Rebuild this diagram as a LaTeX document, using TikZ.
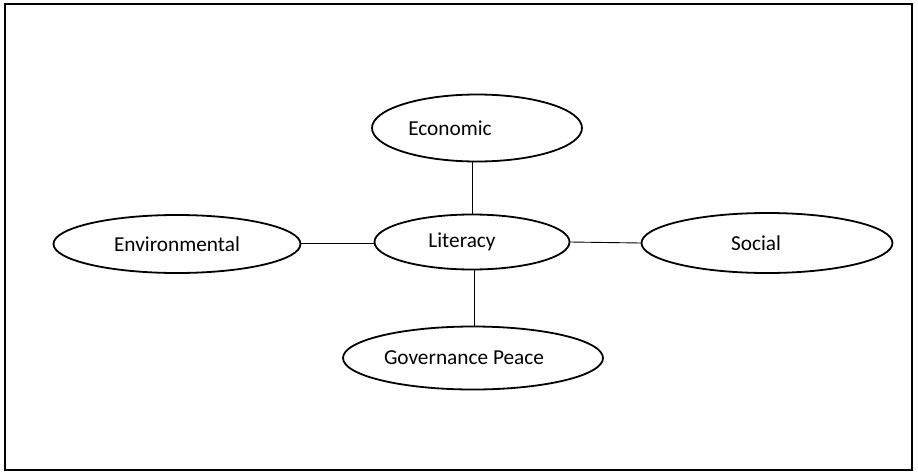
\documentclass[tikz,border=0pt]{standalone}
\usepackage{fontspec}
\setmainfont{Carlito}
\usetikzlibrary{shapes.geometric}
\begin{document}
\begin{tikzpicture}[x=1pt,y=-1pt,
  elipse/.style={draw,ellipse,line width=1.8pt,inner sep=0pt,font=\fontsize{21.3}{25}\selectfont},
  enlace/.style={line width=0.9pt}]
        \useasboundingbox (0,0) rectangle (918,474);
        \draw[line width=2pt] (5,4) rectangle (912,470); % marco
        \node[elipse,minimum width=195,minimum height=55] (lit) at (472,242) {Literacy\hspace*{20pt}}; % centro
        \node[elipse,minimum width=210,minimum height=67] (eco) at (477,128) {Economic\hspace*{54pt}};
        \node[elipse,minimum width=247,minimum height=58] (env) at (177,244) {Environmental};
        \node[elipse,minimum width=251,minimum height=60] (soc) at (767,243) {Social\hspace*{22pt}};
        \node[elipse,minimum width=260,minimum height=63] (gov) at (473,358) {Governance Peace\hspace*{18pt}};
        \draw[enlace] (lit.north |- eco.south) -- (lit.north);
        \draw[enlace] ([xshift=2pt]lit.south) -- ([xshift=2pt]lit.south |- gov.north);
        \draw[enlace] ([yshift=-1pt]env.east |- lit.west) -- ([yshift=-1pt]lit.west);
        \draw[enlace] (lit.east) -- (soc.west);
        \end{tikzpicture}
\end{document}
